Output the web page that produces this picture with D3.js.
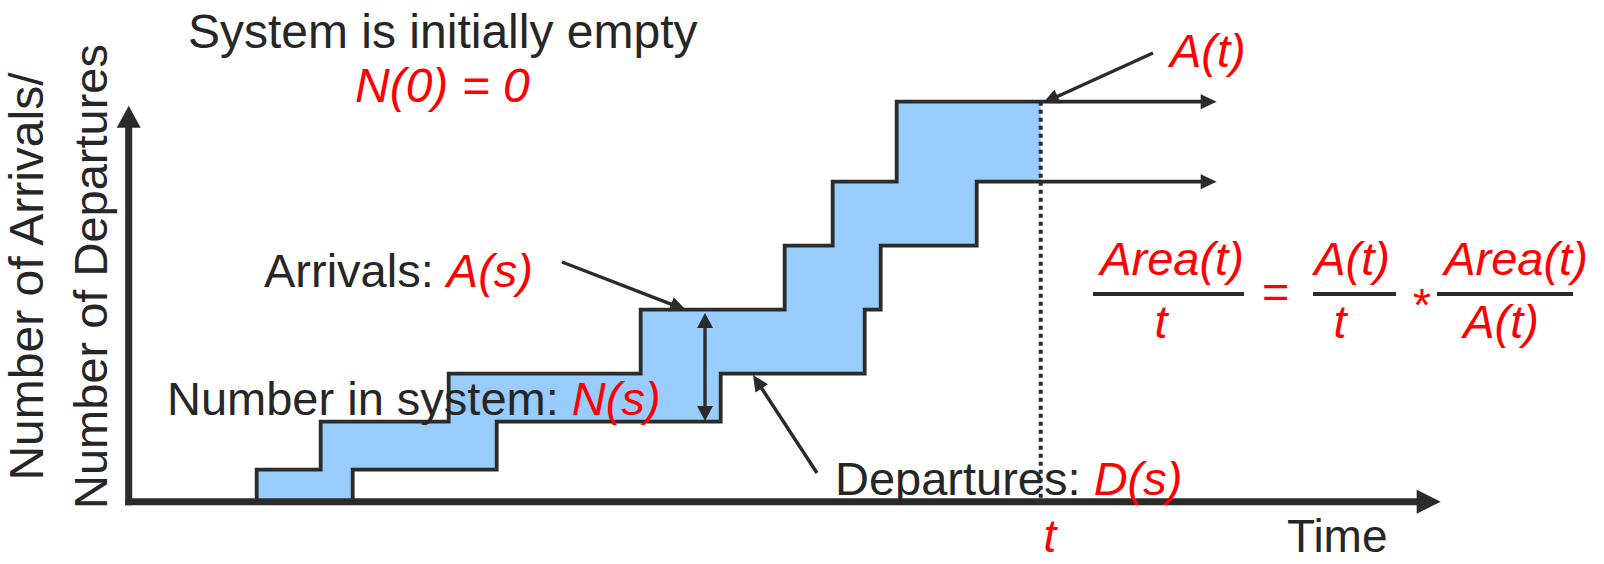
<!DOCTYPE html>
<html><head><meta charset="utf-8">
<script src="https://cdn.jsdelivr.net/npm/d3@7"></script>
<style>
body{margin:0;background:#fff}
text{font-family:"Liberation Sans",Arial,Helvetica,sans-serif}
</style>
</head><body>
<svg id="chart" width="1604" height="564"></svg>
<script>
// ---- data (time units / level units) ----
const arrivalTimes    = [8, 12, 20, 32, 41, 44, 48];
const arrivalLevels   = [2, 5, 8, 12, 16, 20, 25];
const departureTimes  = [14, 23, 37, 46, 47, 53];
const departureLevels = [2, 5, 8, 12, 16, 20];
const tMark = 57;      // observation time t
const tEnd = 68;       // where the step curves' arrows end
const xMax = 82;       // end of time axis
const yMax = 25;
const yAxisTop = 24.75;

// ---- layout ----
const W = 1604, H = 564;
const ink = "#2b2b2b", red = "#ff0000", fillBlue = "#99ccff";
const svg = d3.select("#chart");
svg.append("rect").attr("width", W).attr("height", H).attr("fill", "#fff");

const x = d3.scaleLinear().domain([0, xMax]).range([128.7, 1440.7]);
const y = d3.scaleLinear().domain([0, yMax]).range([501.7, 101.7]);

const A = t => { const i = d3.bisectRight(arrivalTimes, t) - 1; return i < 0 ? 0 : arrivalLevels[i]; };
const D = t => { const i = d3.bisectRight(departureTimes, t) - 1; return i < 0 ? 0 : departureLevels[i]; };

// ---- area between curves up to t ----
const times = Array.from(new Set([...arrivalTimes, ...departureTimes, tMark]))
  .filter(t => t >= arrivalTimes[0] && t <= tMark).sort((a, b) => a - b);
svg.append("path")
  .attr("d", d3.area().x(d => x(d)).y0(d => y(D(d))).y1(d => y(A(d))).curve(d3.curveStepAfter)(times))
  .attr("fill", fillBlue);

// helper: arrow head polygon
function head(x1, y1, x2, y2, len, wid) {
  const a = Math.atan2(y2 - y1, x2 - x1);
  const bx = x2 - len * Math.cos(a), by = y2 - len * Math.sin(a);
  const px = -Math.sin(a) * wid / 2, py = Math.cos(a) * wid / 2;
  svg.append("polygon")
    .attr("points", [[x2, y2], [bx + px, by + py], [bx - px, by - py]].map(p => p.join(",")).join(" "))
    .attr("fill", ink);
  return [x2 - (len - 2) * Math.cos(a), y2 - (len - 2) * Math.sin(a)];
}
function arrow(x1, y1, x2, y2, len, wid, sw, both) {
  let s = [x1, y1];
  const e = head(x1, y1, x2, y2, len, wid);
  if (both) s = head(x2, y2, x1, y1, len, wid);
  svg.append("line").attr("x1", s[0]).attr("y1", s[1]).attr("x2", e[0]).attr("y2", e[1])
    .attr("stroke", ink).attr("stroke-width", sw);
}

// ---- dotted line at t ----
svg.append("line")
  .attr("x1", x(tMark)).attr("x2", x(tMark))
  .attr("y1", y(A(tMark))).attr("y2", y(0))
  .attr("stroke", ink).attr("stroke-width", 4).attr("stroke-dasharray", "4,4");

// ---- step curves ----
const stepLine = d3.line().x(d => x(d[0])).y(d => y(d[1])).curve(d3.curveStepAfter);
const arrPts = [[arrivalTimes[0], 0], ...arrivalTimes.map((t, i) => [t, arrivalLevels[i]])];
const depPts = [[departureTimes[0], 0], ...departureTimes.map((t, i) => [t, departureLevels[i]])];
const endOff = x.invert(x(tEnd) - 12);
arrPts.push([endOff, arrivalLevels[arrivalLevels.length - 1]]);
depPts.push([endOff, departureLevels[departureLevels.length - 1]]);
[arrPts, depPts].forEach(p => {
  svg.append("path").attr("d", stepLine(p)).attr("fill", "none")
    .attr("stroke", ink).attr("stroke-width", 3.8).attr("stroke-linejoin", "miter").attr("stroke-linecap", "square");
});
head(x(tMark), y(arrivalLevels[arrivalLevels.length - 1]), x(tEnd), y(arrivalLevels[arrivalLevels.length - 1]), 16, 15);
head(x(tMark), y(departureLevels[departureLevels.length - 1]), x(tEnd), y(departureLevels[departureLevels.length - 1]), 16, 15);

// ---- axes ----
svg.append("line").attr("x1", x(0)).attr("x2", x(0)).attr("y1", y(0) + 3.5).attr("y2", y(yAxisTop) + 20)
  .attr("stroke", ink).attr("stroke-width", 7);
head(x(0), y(0), x(0), y(yAxisTop), 22, 24);
svg.append("line").attr("x1", x(0) - 3.5).attr("x2", x(xMax) - 22).attr("y1", y(0)).attr("y2", y(0))
  .attr("stroke", ink).attr("stroke-width", 7);
head(x(0), y(0), x(xMax), y(0), 24, 24);

// ---- annotation arrows ----
arrow(562, 262, 686, 310, 16, 15, 3.4);
arrow(817, 473, 753, 375, 16, 15, 3.4);
arrow(705, 421, 705, 313, 15, 16, 3.4, true);
arrow(1153, 53, 1043, 103, 16, 15, 3.4);

// ---- texts ----
function txt(xp, yp, parts, size, anchor) {
  const t = svg.append("text").attr("x", xp).attr("y", yp).attr("font-size", size)
    .attr("text-anchor", anchor || "start");
  parts.forEach(p => {
    t.append("tspan").text(p[0]).attr("fill", p[1] ? red : "#262626")
      .attr("font-style", p[1] ? "italic" : "normal");
  });
  return t;
}
txt(188, 48, [["System is initially empty"]], 48);
txt(355, 102, [["N(0) = 0", 1]], 48);
txt(264, 287, [["Arrivals: "], ["A(s)", 1]], 47);
txt(167, 415, [["Number in system: "], ["N(s)", 1]], 47);
txt(835, 495, [["Departures: "], ["D(s)", 1]], 47);
txt(1170, 67, [["A(t)", 1]], 47);
txt(1050, 552, [["t", 1]], 46, "middle");
txt(1287, 552, [["Time"]], 46);

// y label
const yl = svg.append("g");
[["Number of Arrivals/", 43, 48], ["Number of Departures", 107, 47]].forEach(d => {
  yl.append("text").attr("transform", `translate(${d[1]},276.5) rotate(-90)`)
    .attr("text-anchor", "middle").attr("font-size", d[2]).attr("fill", "#262626").text(d[0]);
});

// formula
const bars = [[1093, 1244], [1313, 1396], [1437, 1573]];
bars.forEach(b => svg.append("line").attr("x1", b[0]).attr("x2", b[1]).attr("y1", 294).attr("y2", 294)
  .attr("stroke", ink).attr("stroke-width", 4));
txt(1172, 275, [["Area(t)", 1]], 47, "middle");
txt(1161, 338, [["t", 1]], 47, "middle");
txt(1275, 307.5, [["=", 1]], 47, "middle");
txt(1352, 275, [["A(t)", 1]], 47, "middle");
txt(1340, 338, [["t", 1]], 47, "middle");
txt(1420, 321, [["*", 1]], 47, "middle");
txt(1516, 275, [["Area(t)", 1]], 47, "middle");
txt(1501, 338, [["A(t)", 1]], 47, "middle");
</script>
</body></html>
